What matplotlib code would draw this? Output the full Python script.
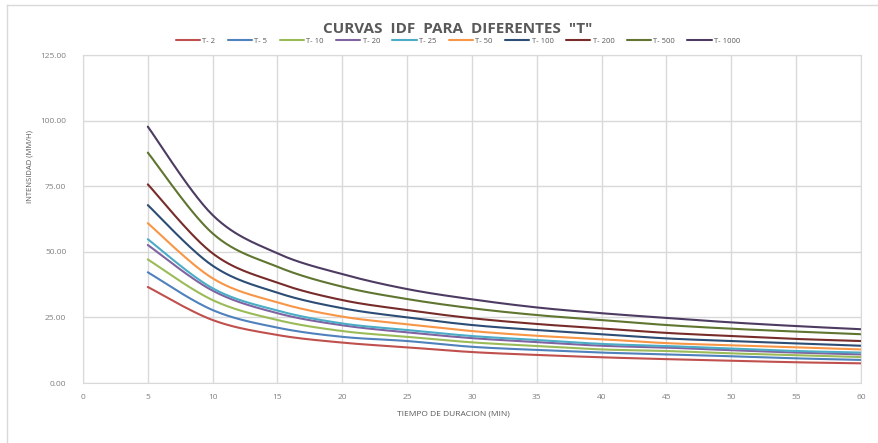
import numpy as np
import matplotlib.pyplot as plt
from matplotlib.lines import Line2D

# duraciones (min) e intensidades (mm/h) por periodo de retorno
duracion = [5, 10, 15, 20, 25, 30, 35, 40, 45, 50, 55, 60]
periodos = ["T- 2", "T- 5", "T- 10", "T- 20", "T- 25", "T- 50", "T- 100", "T- 200", "T- 500", "T- 1000"]

i_t2 = [36.6, 24.0, 18.3, 15.4, 13.6, 11.8, 10.7, 9.8, 9.1, 8.5, 7.9, 7.5]
i_t5 = [42.2, 27.8, 21.1, 17.6, 16.0, 13.8, 12.6, 11.6, 10.9, 10.2, 9.4, 8.8]
i_t10 = [47.1, 31.6, 24.0, 19.8, 17.6, 15.5, 14.1, 12.8, 12.2, 11.3, 10.6, 9.9]
i_t20 = [52.6, 35.2, 26.6, 22.0, 19.3, 17.1, 15.6, 14.2, 13.5, 12.5, 11.6, 10.9]
i_t25 = [54.8, 36.1, 27.6, 22.7, 20.2, 17.9, 16.4, 14.9, 14.1, 13.1, 12.2, 11.6]
i_t50 = [60.9, 39.9, 30.7, 25.3, 22.4, 19.8, 18.0, 16.7, 15.2, 14.4, 13.6, 12.8]
i_t100 = [67.8, 44.7, 34.4, 28.5, 25.0, 22.1, 20.2, 18.6, 17.0, 16.0, 15.1, 14.2]
i_t200 = [75.7, 49.4, 38.2, 31.6, 27.8, 24.7, 22.5, 20.8, 19.1, 17.9, 16.8, 16.0]
i_t500 = [87.8, 57.0, 44.3, 36.7, 32.0, 28.5, 25.9, 24.0, 22.1, 20.7, 19.6, 18.6]
i_t1000 = [97.7, 64.0, 49.4, 41.5, 35.8, 31.9, 28.8, 26.6, 24.8, 23.1, 21.7, 20.5]

series = [i_t2, i_t5, i_t10, i_t20, i_t25, i_t50, i_t100, i_t200, i_t500, i_t1000]
colores = ["#C0504D", "#4F81BD", "#9BBB59", "#8064A2", "#4BACC6",
           "#F79646", "#2C4D75", "#772C2A", "#5F7530", "#4D3B62"]


def suavizar(x, y, n=30):
    # curva bezier cubica que pasa por todos los puntos (linea suavizada)
    x = np.asarray(x, float)
    y = np.asarray(y, float)
    px = np.concatenate([[x[0]], x, [x[-1]]])
    py = np.concatenate([[y[0]], y, [y[-1]]])
    xs, ys = [], []
    t = np.linspace(0, 1, n)
    for k in range(len(x) - 1):
        p0 = np.array([px[k + 1], py[k + 1]])
        p3 = np.array([px[k + 2], py[k + 2]])
        p1 = p0 + (np.array([px[k + 2], py[k + 2]]) - np.array([px[k], py[k]])) / 6
        p2 = p3 - (np.array([px[k + 3], py[k + 3]]) - np.array([px[k + 1], py[k + 1]])) / 6
        b = ((1 - t) ** 3)[:, None] * p0 + (3 * (1 - t) ** 2 * t)[:, None] * p1 \
            + (3 * (1 - t) * t ** 2)[:, None] * p2 + (t ** 3)[:, None] * p3
        xs.extend(b[:, 0])
        ys.extend(b[:, 1])
    return xs, ys


plt.rcParams['font.family'] = ['Open Sans', 'DejaVu Sans']
gris = "#595959"

fig = plt.figure(figsize=(8.79, 4.43), dpi=100)
ax = fig.add_axes([0.0944, 0.1354, 0.8851, 0.7404])

for vals, col, lab in zip(series, colores, periodos):
    sx, sy = suavizar(duracion, vals)
    ax.plot(sx, sy, color=col, lw=1.5, label=lab, solid_capstyle="round")

ax.set_xlim(0, 60)
ax.set_ylim(0, 125)
ax.set_xticks(range(0, 61, 5))
ax.set_yticks(np.arange(0, 126, 25))
ax.set_yticklabels([f"{v:.2f}" for v in np.arange(0, 126, 25)])
ax.grid(True, color="#D9D9D9", lw=1)
ax.set_axisbelow(True)
for s in ax.spines.values():
    s.set_color("#D9D9D9")
ax.tick_params(length=0, labelsize=6, colors="#7F7F7F")
ax.tick_params(axis="y", pad=12)
ax.tick_params(axis="x", pad=8)

ax.set_xlabel("TIEMPO DE DURACION (MIN)", fontsize=6, color=gris)
ax.xaxis.set_label_coords(0.476, -0.085)
ax.set_ylabel("INTENSIDAD (MM/H)", fontsize=5.5, color=gris)
ax.yaxis.set_label_coords(-0.064, 0.66)

fig.text(0.521, 0.935, 'CURVAS  IDF  PARA  DIFERENTES  "T"', ha="center", va="center",
         fontsize=11, fontweight="bold", color=gris)
fig.legend(loc="center", bbox_to_anchor=(0.521, 0.907), ncol=10, frameon=False,
           fontsize=5.5, handlelength=3.2, columnspacing=1.6, handletextpad=0.3,
           labelcolor=gris)

# marco del grafico
fig.add_artist(Line2D([0.008, 1.0], [0.989, 0.989], color="#D9D9D9", lw=1))
fig.add_artist(Line2D([0.008, 0.008], [0.0, 0.989], color="#D9D9D9", lw=1))

fig.savefig("out.png", dpi=100, facecolor="white")
